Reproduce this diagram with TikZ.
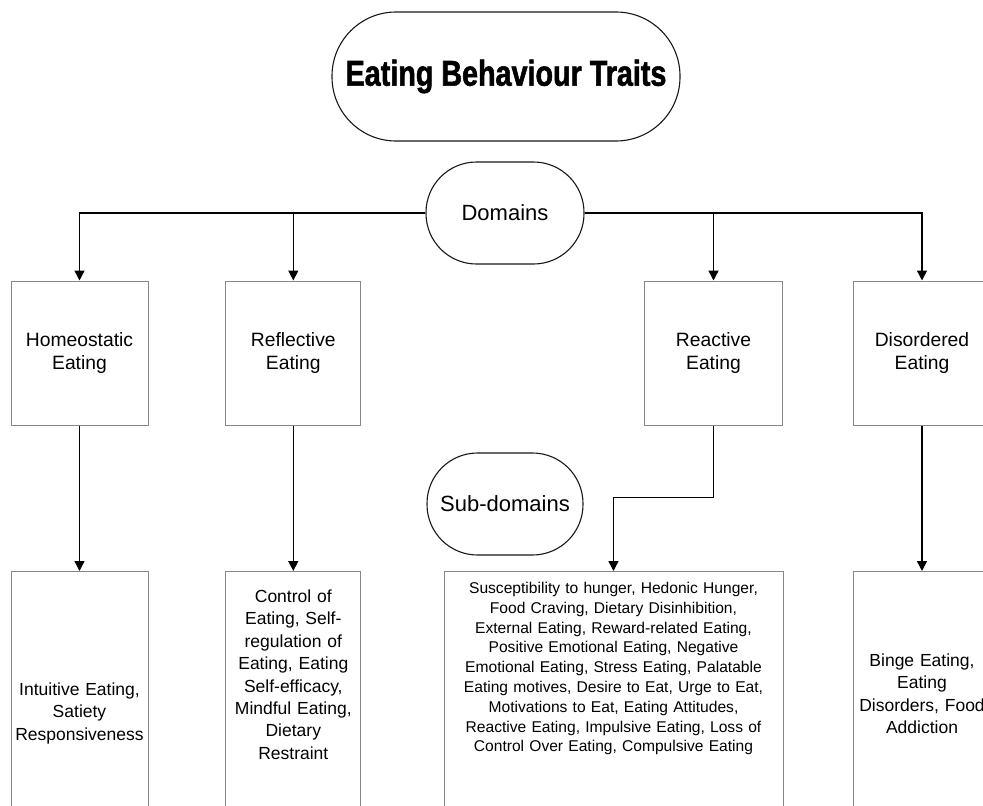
\documentclass[tikz,border=0pt]{standalone}
\usepackage{fontspec}
\setmainfont{Liberation Sans}
\newfontfamily\titlefont{Liberation Sans}[FakeStretch=0.8, BoldFeatures={FakeBold=1.5}]
\usetikzlibrary{arrows.meta}
\definecolor{boxgray}{RGB}{135, 135, 135}
\definecolor{pillblack}{RGB}{25, 25, 25}

\begin{document}
\begin{tikzpicture}[x=1pt, y=-1pt,
        pill/.style={draw=pillblack, line width=1.1pt, align=center},
        domainbox/.style={draw=boxgray, line width=1pt, align=center, minimum width=137pt, minimum height=144pt,
            inner sep=0pt, font=\fontsize{19.3}{23.3}\selectfont},
        itembox/.style={draw=boxgray, line width=1pt, align=center, anchor=north, inner sep=0pt, text width=137pt,
            text depth=260pt, font=\fontsize{17.5}{22.4}\selectfont},
        link/.style={black, line width=1.4pt, -{Triangle[length=10pt, width=10pt]}}]
            \useasboundingbox (0,0) rectangle (983,806);
            \clip             (0,0) rectangle (983,806);
            \node[pill, minimum width=348pt, minimum height=129pt, rounded corners=64pt,
                  font=\titlefont\bfseries\fontsize{35.9}{40}\selectfont]       (traits)     at (506.0, 76.5) {Eating Behaviour Traits};
            \node[pill, minimum width=158pt, minimum height=102pt, rounded corners=50.5pt,
                  font=\fontsize{22}{26}\selectfont]                           (domains)    at (505.0,213.0) {Domains};
            \node[pill, minimum width=156pt, minimum height=102pt, rounded corners=50.5pt,
                  font=\fontsize{22}{26}\selectfont]                           (subdomains) at (505.0,504.0) {Sub-domains};
            \node[domainbox]                                                   (homeo)      at ( 79.5,353.0) {Homeostatic\\Eating};
            \node[domainbox, minimum width=135pt]                              (reflect)    at (293.3,353.0) {Reflective\\Eating};
            \node[domainbox, minimum width=138pt]                              (react)      at (713.5,353.0) {Reactive\\Eating};
            \node[domainbox, minimum width=138pt]                              (disord)     at (922.0,353.0) {Disordered\\Eating};
            \node[itembox, text height=124pt]                                  (homeoitems) at ( 79.5,571.0)
                 {Intuitive Eating,\\Satiety\\Responsiveness};
            \node[itembox, text height=31pt, text width=135pt]                 (reflectitems) at (293.3,571.0)
                 {Control of\\Eating, Self-\\regulation of\\Eating, Eating\\Self-efficacy,\\Mindful Eating,\\Dietary\\Restraint};
            \node[itembox, text height=22pt, text width=339pt,
                  font=\fontsize{15.6}{19.8}\selectfont]                        (reactitems) at (613.5,571.0)
                 {Susceptibility to hunger, Hedonic Hunger,\\Food Craving, Dietary Disinhibition,\\External Eating, Reward-related Eating,\\
                  Positive Emotional Eating, Negative\\Emotional Eating, Stress Eating, Palatable\\Eating motives, Desire to Eat, Urge to Eat,\\
                  Motivations to Eat, Eating Attitudes,\\Reactive Eating, Impulsive Eating, Loss of\\Control Over Eating, Compulsive Eating};
            \node[itembox, text height=95pt, text width=138pt]                 (disorditems) at (922.0,571.0)
                 {Binge Eating,\\Eating\\Disorders, Food\\Addiction};
            \draw[link] (domains.west) -| (homeo.north);
            \draw[link] (domains.west) -| (reflect.north);
            \draw[link] (domains.east) -| (react.north);
            \draw[link] (domains.east) -| (disord.north);
            \draw[link] (homeo.south)   -- (homeoitems.north);
            \draw[link] (reflect.south) -- (reflectitems.north);
            \draw[link] (disord.south)  -- (disorditems.north);
            \draw[link] (react.south)   -- ++(0,72) -| (reactitems.north);
        \end{tikzpicture}
\end{document}
